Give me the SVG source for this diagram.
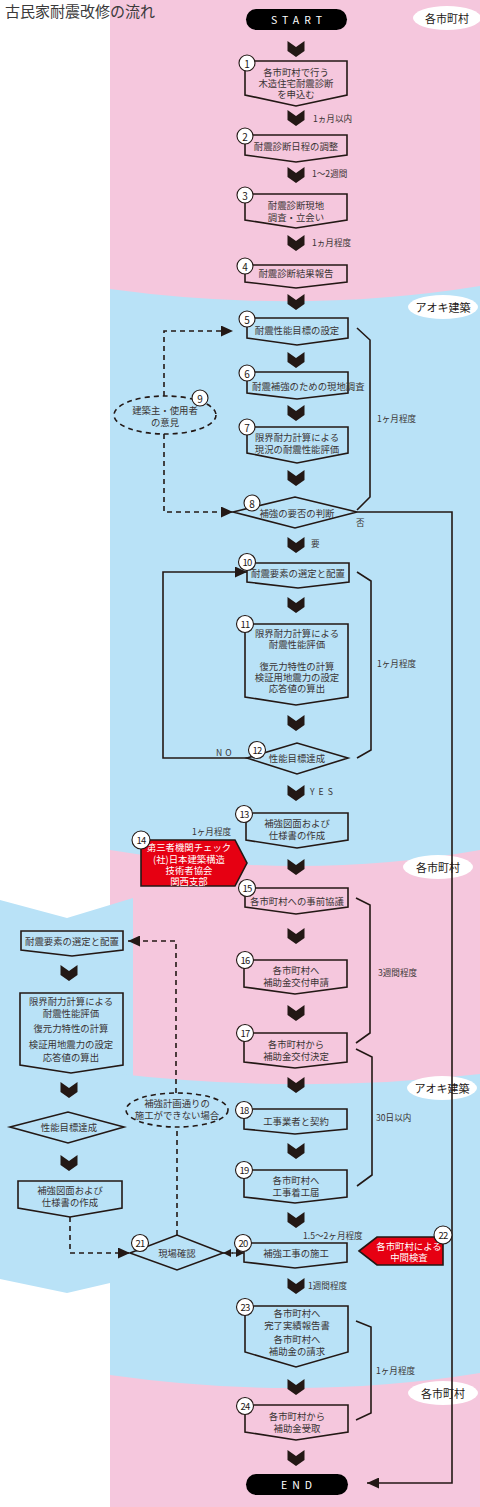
<svg xmlns="http://www.w3.org/2000/svg" xmlns:xlink="http://www.w3.org/1999/xlink" width="480" height="1507" viewBox="0 0 480 1507">
<style>
text{font-family:"Noto Sans CJK JP","Noto Sans",sans-serif;dominant-baseline:central}
.t{font-size:9.4px;fill:#3a3434;text-anchor:middle}
.lb{font-size:8.6px;fill:#3a3434}
.w{font-size:9.4px;fill:#ffffff;text-anchor:middle}
.bx{fill:none;stroke:#231815;stroke-width:1.6}
.red{fill:#e60012;stroke:#231815;stroke-width:1.6}
.nc{fill:#ffffff;stroke:#231815;stroke-width:1.1}
.nt{font-size:10px;fill:#231815;text-anchor:middle}
.nt2{font-size:9.5px;fill:#231815;text-anchor:middle;letter-spacing:-0.8px}
.ln{fill:none;stroke:#231815;stroke-width:1.6}
.dl{fill:none;stroke:#231815;stroke-width:1.6;stroke-dasharray:5 4}
.ov{fill:#ffffff}
.ovt{font-size:11px;fill:#231815;text-anchor:middle}
.pill{fill:#000000}
.pt{font-size:10.5px;fill:#ffffff;text-anchor:middle;letter-spacing:5px}
</style>
<defs>
<path id="chev" d="M-8.5,0 L0,6 L8.5,0 L8.5,10 L0,16 L-8.5,10 Z" fill="#231815"/>
<marker id="ah" viewBox="0 0 12 11" refX="12" refY="5.5" markerWidth="12" markerHeight="11" markerUnits="userSpaceOnUse" orient="auto"><path d="M0,0 L12,5.5 L0,11 Z" fill="#231815"/></marker>
<marker id="ahs" viewBox="0 0 8 8" refX="8" refY="4" markerWidth="8" markerHeight="8" markerUnits="userSpaceOnUse" orient="auto"><path d="M0,0 L8,4 L0,8 Z" fill="#231815"/></marker>
</defs>

<g id="background">
<rect x="110" y="0" width="370" height="1507" fill="#f5c7dd"/>
<path d="M110,289 Q300,315 480,286 L480,850 Q300,882 110,850 Z" fill="#b9e2f7"/>
<polygon points="0,900 67,918 133,898 133,1290 110,1283 67,1293 0,1279" fill="#b9e2f7"/>
<path d="M110,1073 Q300,1095 480,1074 L480,1373 Q300,1402 110,1375 Z" fill="#b9e2f7"/>
</g>

<text x="5" y="10" style="font-size:15px;fill:#3a3a3a">古民家耐震改修の流れ</text>

<g id="org-labels">
<ellipse class="ov" cx="447" cy="18" rx="34" ry="12"/><text class="ovt" x="447" y="18">各市町村</text>
<ellipse class="ov" cx="443" cy="307" rx="35" ry="12"/><text class="ovt" x="443" y="307">アオキ建築</text>
<ellipse class="ov" cx="438" cy="867" rx="35" ry="12"/><text class="ovt" x="438" y="867">各市町村</text>
<ellipse class="ov" cx="442" cy="1088" rx="35" ry="12"/><text class="ovt" x="442" y="1088">アオキ建築</text>
<ellipse class="ov" cx="443" cy="1393" rx="35" ry="12"/><text class="ovt" x="443" y="1393">各市町村</text>
</g>

<g id="chevrons">
<use xlink:href="#chev" x="296" y="41"/>
<use xlink:href="#chev" x="296" y="110"/>
<use xlink:href="#chev" x="296" y="167"/>
<use xlink:href="#chev" x="296" y="235"/>
<use xlink:href="#chev" x="296" y="294"/>
<use xlink:href="#chev" x="296" y="352"/>
<use xlink:href="#chev" x="296" y="405"/>
<use xlink:href="#chev" x="296" y="470"/>
<use xlink:href="#chev" x="296" y="537"/>
<use xlink:href="#chev" x="296" y="597"/>
<use xlink:href="#chev" x="296" y="715"/>
<use xlink:href="#chev" x="296" y="785"/>
<use xlink:href="#chev" x="296" y="859"/>
<use xlink:href="#chev" x="296" y="928"/>
<use xlink:href="#chev" x="296" y="1005"/>
<use xlink:href="#chev" x="296" y="1077"/>
<use xlink:href="#chev" x="296" y="1143"/>
<use xlink:href="#chev" x="296" y="1212"/>
<use xlink:href="#chev" x="296" y="1278"/>
<use xlink:href="#chev" x="296" y="1379"/>
<use xlink:href="#chev" x="296" y="1450"/>
<use xlink:href="#chev" x="69" y="965"/>
<use xlink:href="#chev" x="69" y="1082"/>
<use xlink:href="#chev" x="69" y="1155"/>
</g>

<g id="connectors">
<path class="dl" d="M164,396 V331 H233" marker-end="url(#ah)"/>
<path class="dl" d="M164,434 V512 H233" marker-end="url(#ah)"/>
<path class="ln" d="M247,758 H163 V572 H247" marker-end="url(#ah)"/>
<path class="ln" d="M357,512 H452 V1483 H367" marker-end="url(#ah)"/>
<path class="dl" d="M70,1217 V1253 H130" marker-end="url(#ah)"/>
<path class="dl" d="M177,1235 V1127"/>
<path class="dl" d="M176,1093 V941 H128" marker-end="url(#ah)"/>
<path class="ln" d="M233,1253 H223" marker-end="url(#ahs)" style="stroke-width:1.2"/>
<path class="ln" d="M232,1253 H244" marker-end="url(#ahs)" style="stroke-width:1.2"/>
<polyline class="ln" points="357,328 370,340 370,497 357,510"/>
<polyline class="ln" points="357,572 371,581 371,750 357,758"/>
<polyline class="ln" points="356,898 370,905 370,1033 356,1043"/>
<polyline class="ln" points="356,1049 372,1057 372,1175 357,1186"/>
<polyline class="ln" points="356,1321 371,1327 371,1413 356,1420"/>
</g>

<g id="edge-labels">
<text class="lb" x="313" y="118">1ヵ月以内</text>
<text class="lb" x="312" y="173">1〜2週間</text>
<text class="lb" x="312" y="242">1ヵ月程度</text>
<text class="lb" x="377" y="418">1ヶ月程度</text>
<text class="lb" x="356" y="522">否</text>
<text class="lb" x="311" y="543">要</text>
<text class="lb" x="216" y="752" style="letter-spacing:3px">NO</text>
<text class="lb" x="377" y="663">1ヶ月程度</text>
<text class="lb" x="310" y="791" style="letter-spacing:4px">YES</text>
<text class="lb" x="192" y="831">1ヶ月程度</text>
<text class="lb" x="378" y="972">3週間程度</text>
<text class="lb" x="376" y="1117">30日以内</text>
<text class="lb" x="303" y="1235">1.5〜2ヶ月程度</text>
<text class="lb" x="308" y="1285">1週間程度</text>
<text class="lb" x="376" y="1370">1ヶ月程度</text>
</g>

<g id="start">
<rect class="pill" x="246" y="9" width="101" height="21" rx="10.5"/>
<text class="pt" x="299" y="19.5">START</text>
</g>

<g id="n1">
<path class="bx" d="M245,61 H347 V95 L296,106 L245,95 Z"/>
<text class="t" x="296" y="72">各市町村で行う</text>
<text class="t" x="296" y="83">木造住宅耐震診断</text>
<text class="t" x="296" y="94">を申込む</text>
<circle class="nc" cx="247" cy="63" r="8"/><text class="nt" x="247" y="63">1</text>
</g>

<g id="n2">
<path class="bx" d="M245,135 H347 V155 L296,162 L245,155 Z"/>
<text class="t" x="296" y="146">耐震診断日程の調整</text>
<circle class="nc" cx="245" cy="136" r="8"/><text class="nt" x="245" y="136">2</text>
</g>

<g id="n3">
<path class="bx" d="M245,194 H347 V220 L296,228 L245,220 Z"/>
<text class="t" x="296" y="205">耐震診断現地</text>
<text class="t" x="296" y="217">調査・立会い</text>
<circle class="nc" cx="245" cy="195" r="8"/><text class="nt" x="245" y="195">3</text>
</g>

<g id="n4">
<path class="bx" d="M245,265 H347 V282 L296,288 L245,282 Z"/>
<text class="t" x="296" y="273">耐震診断結果報告</text>
<circle class="nc" cx="245" cy="266" r="8"/><text class="nt" x="245" y="266">4</text>
</g>

<g id="n5">
<path class="bx" d="M247,318 H348 V338 L297,345 L247,338 Z"/>
<text class="t" x="297" y="330">耐震性能目標の設定</text>
<circle class="nc" cx="247" cy="319" r="8"/><text class="nt" x="247" y="319">5</text>
</g>

<g id="n6">
<path class="bx" d="M247,372 H348 V393 L297,399 L247,393 Z"/>
<text class="t" x="252" y="386" style="text-anchor:start">耐震補強のための現地調査</text>
<circle class="nc" cx="247" cy="373" r="8"/><text class="nt" x="247" y="373">6</text>
</g>

<g id="n7">
<path class="bx" d="M247,427 H348 V453 L297,463 L247,453 Z"/>
<text class="t" x="297" y="437">限界耐力計算による</text>
<text class="t" x="297" y="449">現況の耐震性能評価</text>
<circle class="nc" cx="247" cy="427" r="8"/><text class="nt" x="247" y="427">7</text>
</g>

<g id="n8">
<path class="bx" d="M233,512 L295,497 L357,512 L295,528 Z" style="fill:#b9e2f7"/>
<text class="t" x="297" y="513">補強の要否の判断</text>
<circle class="nc" cx="252" cy="503" r="8"/><text class="nt" x="252" y="503">8</text>
</g>

<g id="n9">
<ellipse class="dl" cx="165" cy="415" rx="51" ry="19" style="fill:#b9e2f7"/>
<text class="t" x="165" y="410">建築主・使用者</text>
<text class="t" x="165" y="422">の意見</text>
<circle class="nc" cx="200" cy="398" r="8"/><text class="nt" x="200" y="398">9</text>
</g>

<g id="n10">
<path class="bx" d="M247,563 H349 V582 L298,588 L247,582 Z"/>
<text class="t" x="298" y="573">耐震要素の選定と配置</text>
<circle class="nc" cx="247" cy="562" r="8.5"/><text class="nt2" x="247" y="562">10</text>
</g>

<g id="n11">
<path class="bx" d="M245,624 H348 V697 L296,705 L245,697 Z"/>
<text class="t" x="297" y="633">限界耐力計算による</text>
<text class="t" x="297" y="644">耐震性能評価</text>
<text class="t" x="297" y="666">復元力特性の計算</text>
<text class="t" x="297" y="677">検証用地震力の設定</text>
<text class="t" x="297" y="688">応答値の算出</text>
<circle class="nc" cx="245" cy="624" r="8.5"/><text class="nt2" x="245" y="624">11</text>
</g>

<g id="n12">
<path class="bx" d="M247,758 L297,743 L348,758 L297,774 Z"/>
<text class="t" x="297" y="758">性能目標達成</text>
<circle class="nc" cx="257" cy="750" r="8.5"/><text class="nt2" x="257" y="750">12</text>
</g>

<g id="n13">
<path class="bx" d="M246,813 H348 V840 L297,848 L246,840 Z"/>
<text class="t" x="297" y="823">補強図面および</text>
<text class="t" x="297" y="835">仕様書の作成</text>
<circle class="nc" cx="244" cy="814" r="8.5"/><text class="nt2" x="244" y="814">13</text>
</g>

<g id="n14">
<path class="red" d="M141,840 H235 L247,863 L235,886 H141 Z"/>
<text class="w" x="189" y="847">第三者機関チェック</text>
<text class="w" x="189" y="859">(社)日本建築構造</text>
<text class="w" x="189" y="870">技術者協会</text>
<text class="w" x="189" y="881">関西支部</text>
<circle class="nc" cx="141" cy="840" r="9"/><text class="nt2" x="141" y="840">14</text>
</g>

<g id="n15">
<path class="bx" d="M245,888 H348 V907 L296,914 L245,907 Z"/>
<text class="t" x="297" y="901">各市町村への事前協議</text>
<circle class="nc" cx="247" cy="888" r="8.5"/><text class="nt2" x="247" y="888">15</text>
</g>

<g id="n16">
<path class="bx" d="M244,960 H347 V987 L295,994 L244,987 Z"/>
<text class="t" x="296" y="970">各市町村へ</text>
<text class="t" x="296" y="982">補助金交付申請</text>
<circle class="nc" cx="245" cy="960" r="8.5"/><text class="nt2" x="245" y="960">16</text>
</g>

<g id="n17">
<path class="bx" d="M244,1033 H347 V1062 L295,1068 L244,1062 Z"/>
<text class="t" x="296" y="1044">各市町村から</text>
<text class="t" x="296" y="1056">補助金交付決定</text>
<circle class="nc" cx="245" cy="1033" r="8.5"/><text class="nt2" x="245" y="1033">17</text>
</g>

<g id="n18">
<path class="bx" d="M244,1109 H347 V1129 L295,1134 L244,1129 Z"/>
<text class="t" x="296" y="1121">工事業者と契約</text>
<circle class="nc" cx="244" cy="1110" r="8.5"/><text class="nt2" x="244" y="1110">18</text>
</g>

<g id="n19">
<path class="bx" d="M244,1170 H347 V1197 L295,1203 L244,1197 Z"/>
<text class="t" x="296" y="1180">各市町村へ</text>
<text class="t" x="296" y="1192">工事着工届</text>
<circle class="nc" cx="244" cy="1170" r="8.5"/><text class="nt2" x="244" y="1170">19</text>
</g>

<g id="n20">
<path class="bx" d="M244,1243 H347 V1262 L295,1268 L244,1262 Z"/>
<text class="t" x="296" y="1253">補強工事の施工</text>
<circle class="nc" cx="243" cy="1243" r="8.5"/><text class="nt2" x="243" y="1243">20</text>
</g>

<g id="n21">
<path class="bx" d="M130,1253 L177,1235 L223,1253 L177,1270 Z"/>
<text class="t" x="177" y="1253">現場確認</text>
<circle class="nc" cx="140" cy="1243" r="8.5"/><text class="nt2" x="140" y="1243">21</text>
</g>

<g id="n22">
<path class="red" d="M359,1251 L377,1237 H443 V1265 H377 Z"/>
<text class="w" x="409" y="1246">各市町村による</text>
<text class="w" x="409" y="1257">中間検査</text>
<circle class="nc" cx="443" cy="1235" r="9"/><text class="nt2" x="443" y="1235">22</text>
</g>

<g id="n23">
<path class="bx" d="M245,1306 H348 V1352 L296,1367 L245,1352 Z"/>
<text class="t" x="297" y="1313">各市町村へ</text>
<text class="t" x="297" y="1325">完了実績報告書</text>
<text class="t" x="297" y="1339">各市町村へ</text>
<text class="t" x="297" y="1351">補助金の請求</text>
<circle class="nc" cx="245" cy="1307" r="8.5"/><text class="nt2" x="245" y="1307">23</text>
</g>

<g id="n24">
<path class="bx" d="M245,1405 H348 V1432 L296,1440 L245,1432 Z"/>
<text class="t" x="297" y="1416">各市町村から</text>
<text class="t" x="297" y="1428">補助金受取</text>
<circle class="nc" cx="245" cy="1406" r="8.5"/><text class="nt2" x="245" y="1406">24</text>
</g>

<g id="end">
<rect class="pill" x="246" y="1474" width="102" height="21" rx="10.5"/>
<text class="pt" x="299" y="1484.5">END</text>
</g>

<g id="left-1">
<path class="bx" d="M21,931 H123 V950 L72,956 L21,950 Z"/>
<text class="t" x="72" y="941">耐震要素の選定と配置</text>
</g>
<g id="left-2">
<path class="bx" d="M20,993 H123 V1065 L71,1073 L20,1065 Z"/>
<text class="t" x="71" y="1001">限界耐力計算による</text>
<text class="t" x="71" y="1013">耐震性能評価</text>
<text class="t" x="71" y="1028">復元力特性の計算</text>
<text class="t" x="71" y="1044">検証用地震力の設定</text>
<text class="t" x="71" y="1057">応答値の算出</text>
</g>
<g id="left-3">
<path class="bx" d="M10,1127 L68,1112 L124,1127 L68,1143 Z"/>
<text class="t" x="69" y="1127">性能目標達成</text>
</g>
<g id="left-4">
<path class="bx" d="M18,1181 H122 V1208 L70,1217 L18,1208 Z"/>
<text class="t" x="70" y="1190">補強図面および</text>
<text class="t" x="70" y="1202">仕様書の作成</text>
</g>
<g id="left-5">
<ellipse class="dl" cx="177" cy="1110" rx="51" ry="17" style="fill:#b9e2f7"/>
<text class="t" x="177" y="1103">補強計画通りの</text>
<text class="t" x="177" y="1115">施工ができない場合</text>
</g>
</svg>
